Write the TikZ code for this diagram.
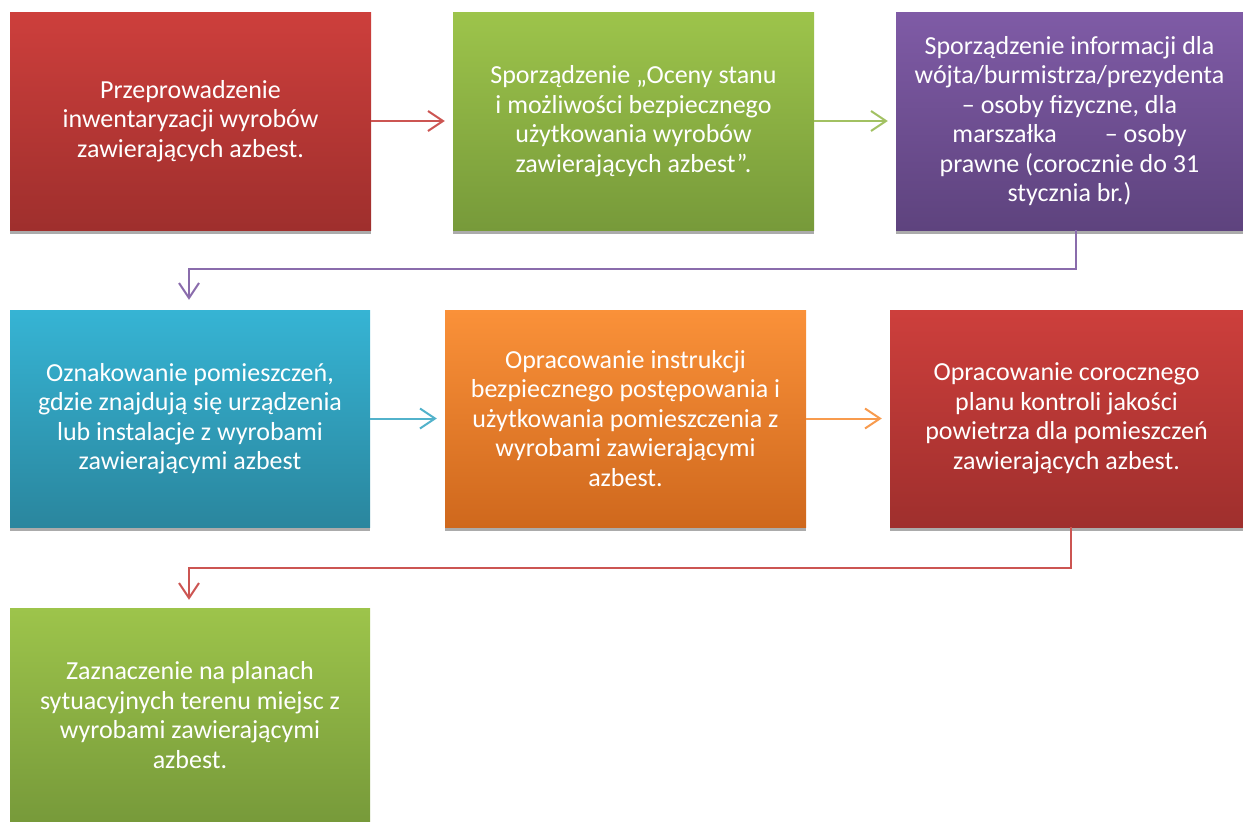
\documentclass[tikz,border=0pt]{standalone}
\usepackage{fontspec}
\setmainfont{Carlito}
\usetikzlibrary{arrows.meta,shadows}
\definecolor{redT}{HTML}{CD3F3C}
\definecolor{redB}{HTML}{9F2F2D}
\definecolor{grnT}{HTML}{9DC44B}
\definecolor{grnB}{HTML}{779A3A}
\definecolor{purT}{HTML}{7F5BA6}
\definecolor{purB}{HTML}{5E437E}
\definecolor{bluT}{HTML}{36B4D4}
\definecolor{bluB}{HTML}{2A869E}
\definecolor{orgT}{HTML}{FA9139}
\definecolor{orgB}{HTML}{CF681D}
\definecolor{redL}{HTML}{CC5552}
\definecolor{grnL}{HTML}{A2C162}
\definecolor{purL}{HTML}{8A6CAC}
\definecolor{bluL}{HTML}{52B2CB}
\definecolor{orgL}{HTML}{F89B4E}
\tikzset{
  box/.style={rectangle, draw=none, text=white, align=center,
    font={\fontsize{26}{29.5}\selectfont}, inner sep=0pt,
    drop shadow={shadow xshift=0pt, shadow yshift=-4pt, fill=black!33, opacity=1}},
  arr/.style={line width=2pt, -{Straight Barb[length=15pt,width=20pt,line width=2pt]}, shorten >=8pt}
}
\begin{document}
\begin{tikzpicture}[x=1pt,y=-1pt]
\useasboundingbox (0,0) rectangle (1243,822);
\node[box, top color=redT, bottom color=redB, minimum width=361pt, minimum height=218pt] (b1) at (190.5,121)
  {Przeprowadzenie\\inwentaryzacji wyrobów\\zawierających azbest.};
\node[box, top color=grnT, bottom color=grnB, minimum width=361pt, minimum height=218pt] (b2) at (633.5,121)
  {Sporządzenie „Oceny stanu\\i możliwości bezpiecznego\\użytkowania wyrobów\\zawierających azbest”.};
\node[box, top color=purT, bottom color=purB, minimum width=347pt, minimum height=218pt] (b3) at (1069.5,121)
  {Sporządzenie informacji dla\\wójta/burmistrza/prezydenta\\– osoby fizyczne, dla\\marszałka\hspace{48pt}– osoby\\prawne (corocznie do 31\\stycznia br.)};
\node[box, top color=bluT, bottom color=bluB, minimum width=360pt, minimum height=217pt] (b4) at (190,418.5)
  {Oznakowanie pomieszczeń,\\gdzie znajdują się urządzenia\\lub instalacje z wyrobami\\zawierającymi azbest};
\node[box, top color=orgT, bottom color=orgB, minimum width=361pt, minimum height=217pt] (b5) at (625.5,418.5)
  {Opracowanie instrukcji\\bezpiecznego postępowania i\\użytkowania pomieszczenia z\\wyrobami zawierającymi\\azbest.};
\node[box, top color=redT, bottom color=redB, minimum width=353pt, minimum height=217pt] (b6) at (1066.5,418.5)
  {Opracowanie corocznego\\planu kontroli jakości\\powietrza dla pomieszczeń\\zawierających azbest.};
\node[box, top color=grnT, bottom color=grnB, minimum width=360pt, minimum height=214pt] (b7) at (190,715)
  {Zaznaczenie na planach\\sytuacyjnych terenu miejsc z\\wyrobami zawierającymi\\azbest.};
\draw[arr, redL] (b1.east) -- (b2.west);
\draw[arr, grnL] (b2.east) -- (b3.west);
\draw[arr, purL, shorten >=10pt] ([xshift=6.5pt]b3.south) -- ++(0,39) -| ([xshift=-1pt]b4.north);
\draw[arr, bluL] (b4.east) -- (b5.west);
\draw[arr, orgL] (b5.east) -- (b6.west);
\draw[arr, redL] ([xshift=4.5pt]b6.south) -- ++(0,41) -| ([xshift=-1pt]b7.north);
\end{tikzpicture}
\end{document}
